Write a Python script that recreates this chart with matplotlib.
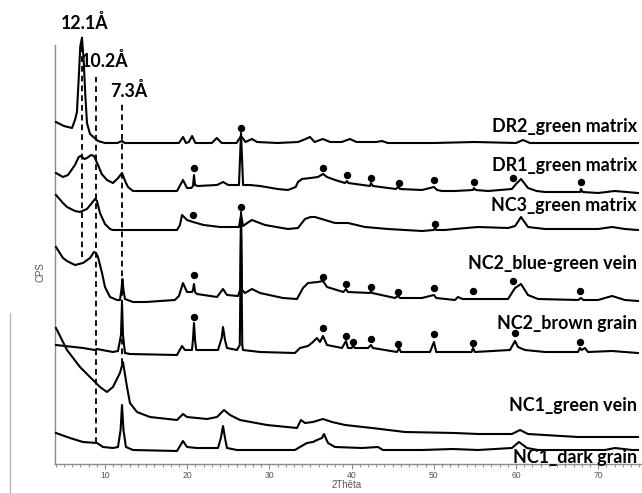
import matplotlib
matplotlib.use("Agg")
import matplotlib.pyplot as plt
from matplotlib.lines import Line2D
from matplotlib.ticker import MultipleLocator

# ---------------- data (2-theta, intensity in arbitrary stacked CPS units) ----------------
dr2_tt = [4.04, 5.0, 5.99, 6.35, 6.59, 6.8, 7.0, 7.2, 7.4, 7.6, 7.81, 8.18, 9.15, 10.0, 11.5, 12.07, 12.4,
          15.0, 19.0, 19.5, 19.85, 20.2, 20.6, 21.0, 23.0, 23.6, 24.2, 26.0, 26.55, 27.1, 27.88, 28.5,
          31.0, 33.5, 34.4, 34.94, 35.5, 36.5, 37.4, 38.8, 39.8, 40.6, 43.0, 43.7, 44.4, 50.0, 55.0,
          60.0, 60.85, 61.7, 68.0, 74.84]
dr2_i = [342, 338, 336, 344, 352, 385, 418, 426, 405, 370, 341, 330, 323, 321, 321, 323, 321,
         321, 321, 327, 321, 322, 328, 321, 321, 326, 321, 321, 328, 322, 325, 322,
         321, 322, 325, 327, 322, 325, 322, 322, 325, 322, 322, 323, 321, 321, 322,
         321, 324, 321, 321, 321]

dr1_tt = [4.04, 4.89, 5.5, 6.35, 6.8, 7.05, 7.5, 7.81, 8.3, 8.66, 9.15, 9.6, 10.24, 10.97, 11.6, 12.07,
          12.5, 12.8, 13.41, 15.0, 18.76, 19.49, 19.98, 20.5, 20.71, 20.83, 20.95, 21.3, 23.63, 24.36,
          25.0, 26.3, 26.55, 26.8, 27.64, 28.86, 31.0, 32.26, 33.2, 33.48, 33.97, 35.0, 35.91, 36.52,
          37.01, 38.0, 39.2, 39.44, 39.6, 42.24, 42.36, 42.6, 45.4, 45.64, 45.9, 48.56, 50.02, 50.4,
          51.0, 52.58, 54.77, 54.89, 55.1, 56.59, 59.5, 60.0, 60.61, 61.46, 62.5, 63.53, 67.8, 67.91,
          68.1, 70.0, 72.0, 74.84]
dr1_i = [291, 287, 289, 299, 307, 308, 305, 306, 309, 308, 299, 290, 284, 281, 286, 291,
         282, 277, 273, 273, 273, 284, 276, 276, 278, 289, 279, 278, 279, 282,
         279, 279, 331, 279, 279, 278, 275, 274, 277, 282, 285, 286, 287, 290,
         287, 284, 281, 283, 281, 278, 281, 278, 275, 277, 275, 274, 277, 274,
         273, 273, 274, 276, 274, 273, 275, 280, 285, 276, 273, 272, 272, 275,
         272, 271, 273, 271]

nc3_tt = [4.04, 4.89, 5.38, 6.35, 6.96, 7.81, 8.3, 8.78, 9.03, 9.39, 10.0, 10.61, 10.97, 13.0, 18.76,
          19.12, 19.37, 19.98, 20.71, 22.0, 24.0, 26.3, 26.55, 26.8, 27.3, 27.88, 28.5, 29.46, 32.26,
          33.48, 34.33, 35.0, 35.55, 36.76, 37.98, 39.56, 41.63, 44.43, 48.56, 50.0, 50.15, 50.3, 51.36,
          52.58, 55.38, 59.03, 59.9, 60.61, 61.46, 63.53, 70.0, 71.68, 73.26, 74.84]
nc3_i = [269, 261, 257, 253, 252, 255, 260, 265, 263, 251, 240, 235, 234, 234, 234,
         239, 249, 244, 242, 239, 237, 237, 249, 238, 241, 244, 242, 239, 235,
         236, 245, 247, 247, 244, 241, 241, 237, 235, 233, 234, 236, 234, 234,
         235, 237, 236, 238, 247, 237, 235, 235, 237, 235, 234]

nc2bg_tt = [4.04, 4.89, 5.38, 6.35, 7.32, 8.18, 8.66, 8.91, 9.15, 9.64, 10.0, 10.61, 11.46, 11.82, 12.0,
            12.12, 12.25, 12.43, 13.41, 15.0, 18.5, 19.0, 19.49, 19.98, 20.58, 20.71, 20.83, 20.95,
            21.19, 23.63, 24.36, 24.84, 26.18, 26.45, 26.55, 26.67, 27.03, 27.88, 28.86, 31.65, 33.36,
            34.09, 34.7, 35.91, 36.52, 37.01, 39.0, 39.32, 39.55, 42.24, 42.36, 42.5, 45.28, 45.64,
            45.9, 48.56, 50.02, 50.3, 52.58, 52.94, 53.5, 55.38, 59.03, 59.88, 60.61, 61.46, 62.68,
            67.54, 67.91, 68.2, 69.98, 71.68, 73.26, 74.84]
nc2bg_i = [217, 206, 203, 199, 201, 206, 212, 211, 207, 191, 177, 167, 164, 164, 174,
           185, 174, 165, 162, 162, 164, 168, 181, 172, 172, 174, 180, 172,
           170, 167, 175, 169, 168, 174, 252, 174, 171, 175, 171, 166, 165,
           176, 181, 182, 183, 177, 172, 175, 172, 171, 173, 171, 166, 168,
           166, 166, 169, 166, 164, 167, 165, 165, 165, 176, 180, 169, 165,
           164, 166, 164, 164, 168, 164, 163]

nc2br_tt = [4.04, 7.32, 8.78, 9.0, 10.97, 11.58, 11.95, 12.07, 12.19, 12.43, 13.04, 18.76, 19.37, 19.73,
            20.58, 20.7, 20.83, 20.96, 21.1, 23.75, 24.2, 24.36, 24.6, 24.84, 26.06, 26.4, 26.55, 26.7,
            26.79, 28.86, 33.11, 33.72, 34.7, 35.3, 35.79, 36.16, 36.52, 37.01, 38.83, 39.32, 39.56,
            40.0, 40.17, 40.41, 42.0, 42.36, 42.6, 45.52, 45.77, 46.0, 49.54, 50.02, 50.3, 52.58, 54.6,
            54.77, 55.0, 59.27, 59.88, 60.24, 61.09, 63.53, 67.54, 67.79, 68.0, 68.39, 68.76, 71.68,
            74.84]
nc2br_i = [119, 116, 114, 115, 112, 113, 129, 162, 129, 111, 110, 109, 118, 114,
           114, 124, 141, 124, 114, 114, 126, 137, 124, 116, 114, 119, 239, 119,
           114, 112, 111, 116, 118, 122, 126, 122, 128, 119, 116, 123, 116,
           116, 118, 116, 116, 119, 116, 112, 116, 112, 112, 122, 112, 112, 112,
           116, 112, 114, 123, 117, 114, 112, 112, 116, 114, 116, 112, 113,
           111]

nc1gv_tt = [4.04, 5.38, 6.96, 8.54, 9.39, 10.24, 10.97, 11.82, 12.19, 12.68, 13.04, 13.89, 15.47, 18.76,
            19.49, 19.98, 22.41, 23.63, 24.48, 25.21, 26.42, 29.71, 33.36, 33.84, 34.33, 35.3, 36.52,
            37.62, 39.2, 42.48, 46.5, 52.58, 55.38, 59.51, 60.49, 61.46, 67.54, 74.84]
nc1gv_i = [136, 114, 97, 84, 77, 72, 77, 91, 102, 77, 61, 52, 47, 44,
           50, 47, 45, 47, 54, 49, 44, 39, 36, 44, 41, 42, 45,
           42, 39, 36, 32, 31, 30, 30, 34, 30, 27, 27]

nc1dg_tt = [4.04, 5.74, 7.32, 9.03, 9.76, 10.97, 11.58, 11.9, 12.07, 12.25, 12.55, 13.41, 18.76, 19.49,
            19.98, 21.19, 23.75, 24.1, 24.36, 24.6, 24.84, 26.06, 33.11, 33.72, 34.57, 35.3, 35.79,
            36.4, 36.64, 37.13, 37.98, 41.27, 43.21, 43.82, 48.56, 52.3, 55.38, 57.45, 59.51, 60.36,
            61.34, 62.68, 70.83, 72.04, 74.11, 74.84]
nc1dg_i = [31, 26, 22, 21, 17, 16, 17, 34, 59, 34, 17, 14, 13, 23,
           17, 16, 16, 26, 38, 26, 16, 14, 14, 17, 21, 22, 24,
           26, 30, 21, 17, 16, 17, 14, 14, 15, 14, 15, 16, 22,
           16, 14, 14, 16, 14, 14]

# peak markers (filled circles)
dot_tt = [26.55,
          20.83, 36.52, 39.44, 42.36, 45.77, 50.02, 54.89, 59.64, 67.91,
          20.71, 26.55, 50.15,
          20.83, 36.52, 39.32, 42.36, 45.64, 50.02, 54.77, 59.64, 67.79,
          20.83, 36.52, 39.32, 40.17, 42.36, 45.64, 50.02, 54.77, 59.88, 67.79]
dot_i = [336,
         296, 296, 289, 286, 281, 284, 282, 286, 282,
         249, 257, 240,
         189, 187, 180, 177, 172, 176, 173, 183, 173,
         147, 136, 128, 122, 125, 120, 130, 121, 131, 122]

sample_names = ["DR2_green matrix", "DR1_green matrix", "NC3_green matrix",
                "NC2_blue-green vein", "NC2_brown grain", "NC1_green vein", "NC1_dark grain"]

d_labels = ["12.1Å", "10.2Å", "7.3Å"]
d_positions = [7.2, 8.85, 12.1]          # 2-theta of the reference lines
d_line_low = [207, 21, 100]
d_line_high = [430, 387, 361]

x_ticks = [10, 20, 30, 40, 50, 60, 70]

# ---------------- figure ----------------
W, H = 642, 493
fig = plt.figure(figsize=(W / 100, H / 100), dpi=100)
ax = fig.add_axes([55 / W, (H - 464) / H, (W - 55) / W, (464 - 45) / H])
ax.set_xlim(3.92, 75.33)
ax.set_ylim(0, 419)

series = [(dr2_tt, dr2_i), (dr1_tt, dr1_i), (nc3_tt, nc3_i), (nc2bg_tt, nc2bg_i),
          (nc2br_tt, nc2br_i), (nc1gv_tt, nc1gv_i), (nc1dg_tt, nc1dg_i)]
for tt, ii in series:
    ax.plot(tt, ii, color="black", lw=1.5, solid_joinstyle="round", clip_on=False, zorder=3)

ax.plot(dot_tt, dot_i, "o", color="black", ms=4.3, zorder=4, clip_on=False)

for xpos, lo, hi in zip(d_positions, d_line_low, d_line_high):
    ax.plot([xpos, xpos], [lo, hi], color="black", lw=1.3, dashes=[3.2, 2.2], clip_on=False, zorder=2)

label_pos = [(7.55, 441), (10.0, 403), (12.9, 373)]
for txt, (lx, ly) in zip(d_labels, label_pos):
    ax.text(lx, ly, txt, ha="center", va="center", fontsize=12.8, fontweight="bold",
            family="Lato", clip_on=False)

# spines / ticks
for s in ["top", "right"]:
    ax.spines[s].set_visible(False)
for s in ["left", "bottom"]:
    ax.spines[s].set_color("#8a8a8a")
    ax.spines[s].set_linewidth(1.0)
ax.set_yticks([])
ax.set_xticks(x_ticks)
ax.xaxis.set_minor_locator(MultipleLocator(1))
ax.tick_params(axis="x", which="major", length=3.6, width=0.8, color="#8a8a8a", pad=1.5,
               labelsize=6.2, labelcolor="#555555")
ax.tick_params(axis="x", which="minor", length=2.2, width=0.7, color="#8a8a8a")
for lab in ax.get_xticklabels():
    lab.set_family("Liberation Sans")

fig.text(40 / W, 1 - 272 / H, "CPS", rotation=90, ha="center", va="center", fontsize=7,
         color="#555555", family="Liberation Sans")
fig.text(347 / W, 1 - 485 / H, "2Thêta", ha="center", va="center", fontsize=7,
         color="#555555", family="Liberation Sans")

label_rows = [127, 165, 205, 264, 323, 405, 458]
for name, row in zip(sample_names, label_rows):
    fig.text(637 / W, 1 - row / H, name, ha="right", va="center", fontsize=12.9,
             fontweight="bold", family="Lato")

# stray light-grey vertical rule at the far left
fig.add_artist(Line2D([10 / W, 10 / W], [0, (H - 313) / H], color="#bbbbbb", lw=1.0))

fig.savefig("out.png", dpi=100)
